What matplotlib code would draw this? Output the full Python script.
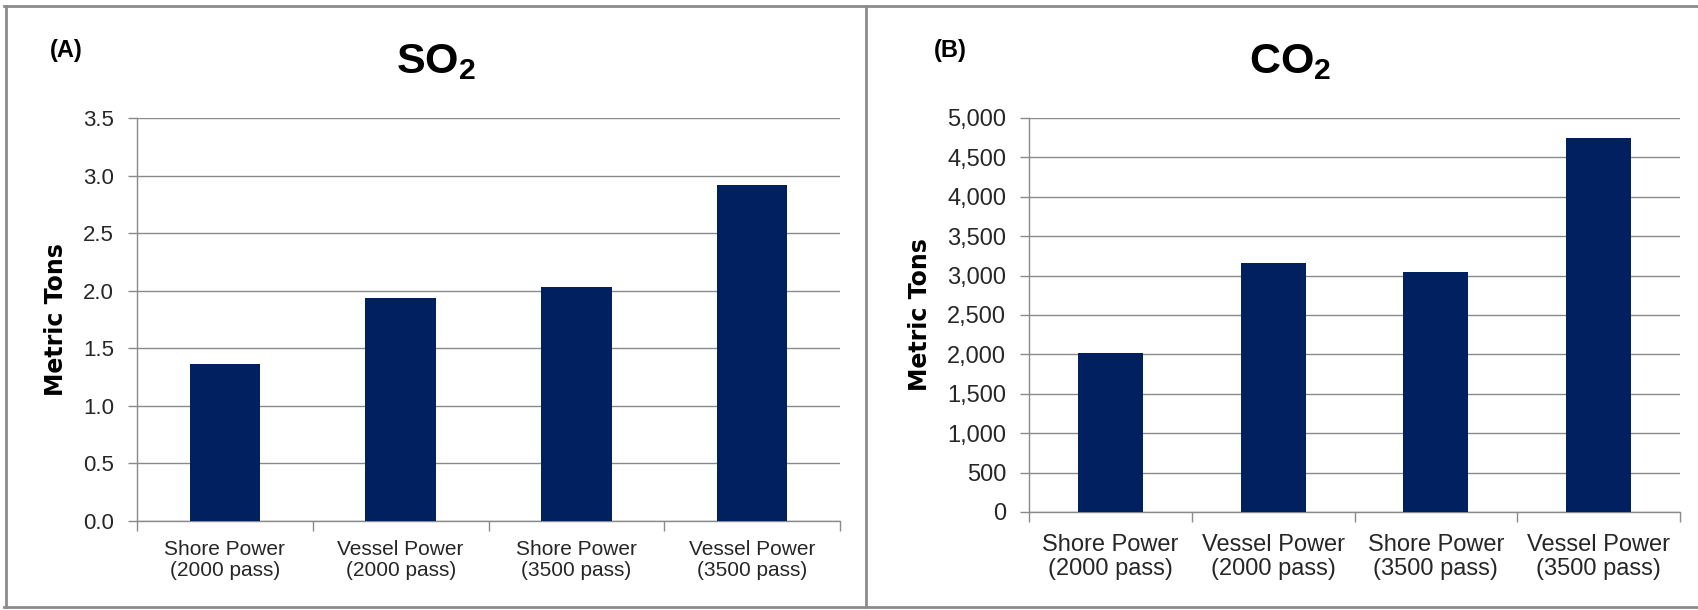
import numpy as np
import matplotlib
matplotlib.use("Agg")
import matplotlib.pyplot as plt
from matplotlib.lines import Line2D
from matplotlib.ticker import FuncFormatter, FixedLocator

plt.rcParams['font.family'] = ['Liberation Sans', 'DejaVu Sans']
plt.rcParams['mathtext.fontset'] = 'custom'
plt.rcParams['mathtext.bf'] = 'Liberation Sans:bold'
plt.rcParams['mathtext.rm'] = 'Liberation Sans:bold'

# data
categories = ["Shore Power\n(2000 pass)", "Vessel Power\n(2000 pass)",
              "Shore Power\n(3500 pass)", "Vessel Power\n(3500 pass)"]
so2 = [1.36, 1.94, 2.03, 2.92]
co2 = [2022, 3155, 3040, 4745]
so2_ticks = [0.0, 0.5, 1.0, 1.5, 2.0, 2.5, 3.0, 3.5]
co2_ticks = [0, 500, 1000, 1500, 2000, 2500, 3000, 3500, 4000, 4500, 5000]

W, H = 1698, 610
bar_color = "#002060"
grid_color = "#8a8a8a"
text_color = "#262626"

fig = plt.figure(figsize=(W / 100, H / 100), dpi=100)


def px_axes(x0, y0, x1, y1):
    # pixel box (top-left origin) -> figure axes
    return fig.add_axes([x0 / W, 1 - y1 / H, (x1 - x0) / W, (y1 - y0) / H])


def style_axes(ax, values, ticks, fmt, tick_size, label_size, label_pad):
    x = np.arange(len(values))
    ax.bar(x, values, width=0.4, color=bar_color, zorder=3)
    ax.set_xlim(-0.5, len(values) - 0.5)
    ax.set_ylim(ticks[0], ticks[-1])
    ax.set_yticks(ticks)
    ax.yaxis.set_major_formatter(FuncFormatter(fmt))
    ax.set_xticks(x)
    ax.set_xticklabels(categories, fontsize=label_size, color=text_color,
                       linespacing=1.12)
    ax.xaxis.set_minor_locator(FixedLocator(np.arange(len(values) + 1) - 0.5))
    ax.tick_params(axis='x', which='major', length=0, pad=label_pad)
    ax.tick_params(axis='x', which='minor', length=7, width=1.0,
                   color=grid_color, direction='out')
    ax.tick_params(axis='y', length=6.5, width=1.0, color=grid_color,
                   labelsize=tick_size, labelcolor=text_color, pad=10)
    ax.yaxis.grid(True, color=grid_color, linewidth=1.0, zorder=0)
    ax.set_axisbelow(True)
    for s in ['top', 'right']:
        ax.spines[s].set_visible(False)
    for s in ['left', 'bottom']:
        ax.spines[s].set_color(grid_color)
        ax.spines[s].set_linewidth(1.0)


ax1 = px_axes(137, 118, 840, 521)
style_axes(ax1, so2, so2_ticks, lambda v, p: f"{v:.1f}", 16, 15, 14)

ax2 = px_axes(1029, 118, 1680, 512)
style_axes(ax2, co2, co2_ticks, lambda v, p: f"{int(v):,}", 17, 17, 16)

# titles and panel letters
fig.text(436 / W, 1 - 73 / H, r"SO$_\mathbf{2}$", ha='center', va='baseline',
         fontsize=31, fontweight='bold', color='black')
fig.text(1290 / W, 1 - 73 / H, r"CO$_\mathbf{2}$", ha='center', va='baseline',
         fontsize=31, fontweight='bold', color='black')
fig.text(66 / W, 1 - 51 / H, "(A)", ha='center', va='center',
         fontsize=17, fontweight='bold', color='black')
fig.text(950 / W, 1 - 51 / H, "(B)", ha='center', va='center',
         fontsize=17, fontweight='bold', color='black')

# y labels
fig.text(56 / W, 1 - 320 / H, "Metric Tons", rotation=90, ha='center',
         va='center', fontsize=17, fontweight='bold', family='DejaVu Sans')
fig.text(920 / W, 1 - 315 / H, "Metric Tons", rotation=90, ha='center',
         va='center', fontsize=17, fontweight='bold', family='DejaVu Sans')

# panel borders
border = dict(color="#8c8c8c", linewidth=2.0, transform=fig.transFigure)
fig.add_artist(Line2D([4 / W, 1], [1 - 6 / H, 1 - 6 / H], **border))
fig.add_artist(Line2D([6 / W, 6 / W], [1 - 6 / H, 1 - 607 / H], **border))
fig.add_artist(Line2D([866 / W, 866 / W], [1 - 6 / H, 1 - 607 / H], **border))
fig.add_artist(Line2D([4 / W, 1], [1 - 607 / H, 1 - 607 / H], **border))

fig.savefig("out.png", dpi=100)
